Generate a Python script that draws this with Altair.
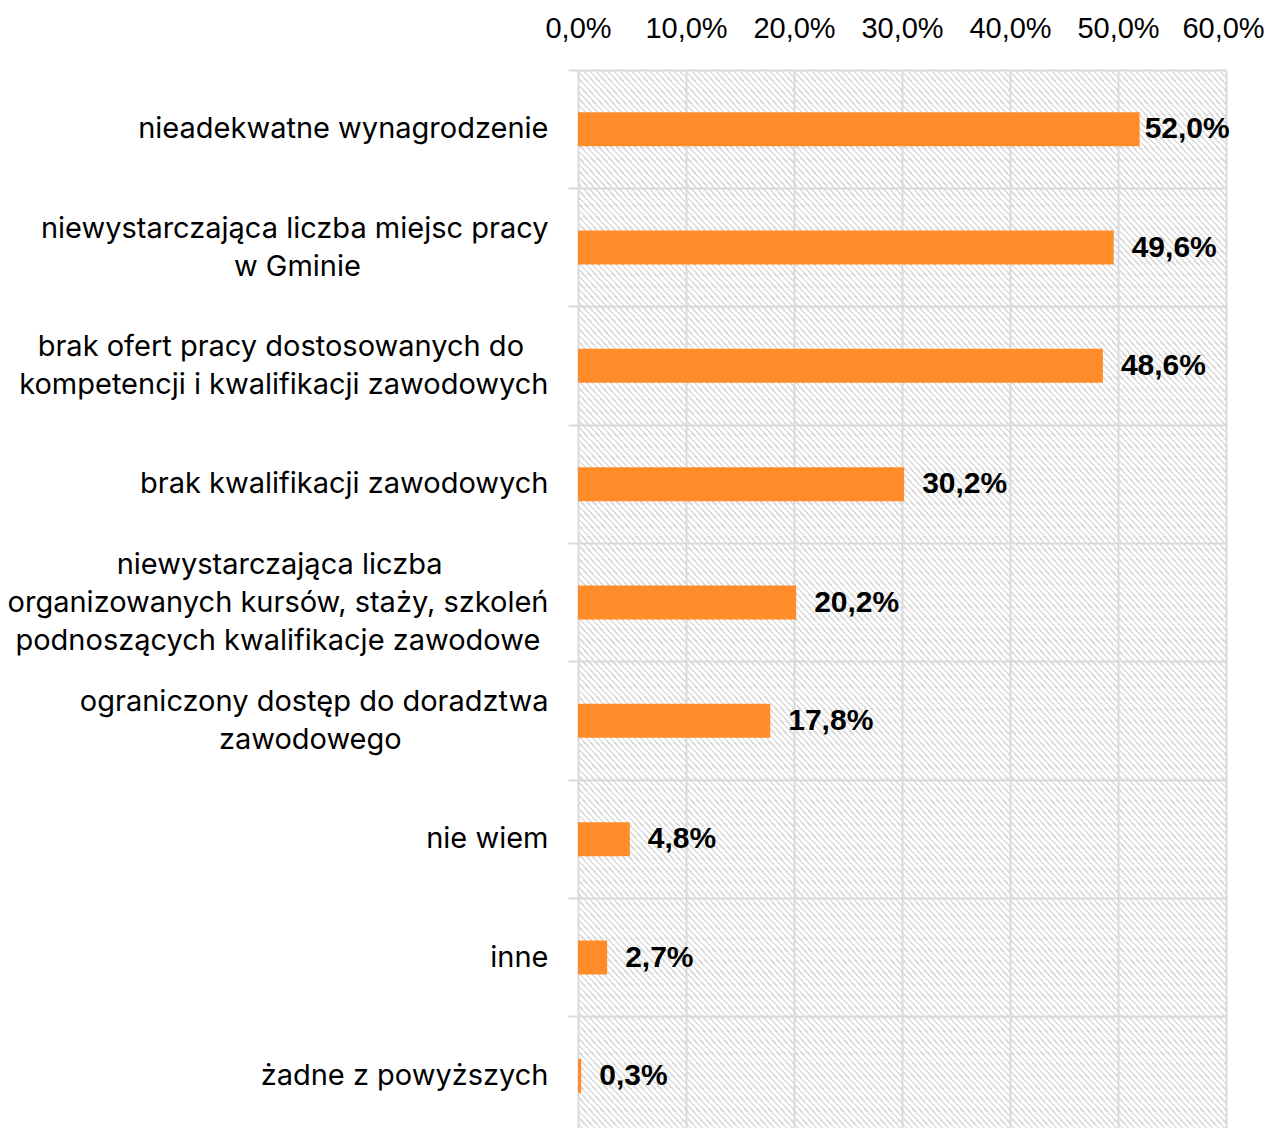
import altair as alt
import pandas as pd

categories = [
    "nieadekwatne wynagrodzenie",
    "niewystarczająca liczba miejsc pracy\nw Gminie",
    "brak ofert pracy dostosowanych do\nkompetencji i kwalifikacji zawodowych",
    "brak kwalifikacji zawodowych",
    "niewystarczająca liczba\norganizowanych kursów, staży, szkoleń\npodnoszących kwalifikacje zawodowe",
    "ograniczony dostęp do doradztwa\nzawodowego",
    "nie wiem",
    "inne",
    "żadne z powyższych",
]
values = [52.0, 49.6, 48.6, 30.2, 20.2, 17.8, 4.8, 2.7, 0.3]
x_ticks = [0, 10, 20, 30, 40, 50, 60]

# visual centring of multi-line labels inside a right-aligned block:
# trailing no-break spaces (closed by a word joiner so they are kept)
NB = "\u00a0"
WJ = "\u2060"
pad_counts = {
    1: [0, 23],
    2: [3, 0],
    4: [13, 0, 1],
    5: [0, 18],
}


def center_lines(i, label):
    lines = label.split("\n")
    if i in pad_counts:
        lines = [ln + (NB * n + WJ if n else "") for ln, n in zip(lines, pad_counts[i])]
    return "\n".join(lines)


display = [center_lines(i, c) for i, c in enumerate(categories)]

df = pd.DataFrame({"cat": display, "v": values})
cells = pd.DataFrame(
    [{"cat": c, "x0": x, "x1": x + 10} for c in display for x in x_ticks[:-1]]
)

GRID = "#d9d9d9"
BAR = "#FF8C28"

# diagonal hatch via a hard-stop linear gradient
n = 36
p = 1.0 / n
stops = []
for k in range(n):
    a = k * p
    stops += [
        {"offset": round(a, 5), "color": "rgba(255,255,255,0)"},
        {"offset": round(a + 0.62 * p, 5), "color": "rgba(255,255,255,0)"},
        {"offset": round(a + 0.62 * p, 5), "color": "#dddddd"},
        {"offset": round(min(a + p, 1.0), 5), "color": "#dddddd"},
    ]
hatch_fill = {"gradient": "linear", "x1": 0, "y1": 1, "x2": 1, "y2": 0, "stops": stops}

y_scale = alt.Scale(domain=display, paddingInner=0, paddingOuter=0)
x_scale = alt.Scale(domain=[0, 60], nice=False)

x_axis = alt.Axis(
    orient="top",
    values=x_ticks,
    grid=True,
    gridColor=GRID,
    gridWidth=2,
    ticks=False,
    domain=False,
    labelFont="Liberation Sans",
    labelFontSize=29,
    labelColor="#000000",
    labelPadding=27,
    labelOverlap=False,
    labelFlush=False,
    labelOffset={"condition": {"test": "datum.value == 60", "value": -3}, "value": 0},
    labelExpr="replace(format(datum.value, '.1f'), '.', ',') + '%'",
    title=None,
)

nlines = "length(split(datum.label, '\\n'))"
y_axis = alt.Axis(
    bandPosition=0,
    grid=True,
    gridColor=GRID,
    gridWidth=2,
    ticks=True,
    tickSize=10,
    tickColor=GRID,
    tickWidth=2,
    domain=False,
    labelFont="Inter",
    labelFontSize=29,
    labelLineHeight=38,
    labelColor="#000000",
    labelPadding=20,
    labelLimit=0,
    labelExpr="split(datum.label, '\\n')",
    labelOffset={
        "condition": [
            {"test": f"{nlines} == 3", "value": -38},
            {"test": f"{nlines} == 2", "value": -19},
        ],
        "value": 0,
    },
    title=None,
)

hatch = alt.Chart(cells).mark_rect(fill=hatch_fill, strokeWidth=0).encode(
    y=alt.Y("cat:N", scale=y_scale, sort=None, axis=y_axis),
    x=alt.X("x0:Q", scale=x_scale, axis=x_axis),
    x2="x1:Q",
)

bars = alt.Chart(df).mark_bar(color=BAR, size=34).encode(
    y=alt.Y("cat:N", scale=y_scale, sort=None),
    x=alt.X("v:Q", scale=x_scale),
)

labels = (
    alt.Chart(df)
    .transform_calculate(
        pos="min(datum.v, 50.8)",
        txt="replace(format(datum.v, '.1f'), '.', ',') + '%'",
    )
    .mark_text(
        align="left",
        baseline="middle",
        dx=18,
        font="Liberation Sans",
        fontSize=30,
        fontWeight="bold",
        color="#000000",
    )
    .encode(
        y=alt.Y("cat:N", scale=y_scale, sort=None),
        x=alt.X("pos:Q", scale=x_scale),
        text="txt:N",
    )
)

chart = (
    alt.layer(hatch, bars, labels)
    .properties(
        width=648,
        height=1065,
        autosize=alt.AutoSizeParams(type="none"),
        padding={"left": 570, "top": 62, "right": 38, "bottom": 0},
    )
    .configure_view(stroke=None)
)

chart.save("out.html", embed_options={"renderer": "svg", "actions": False})
